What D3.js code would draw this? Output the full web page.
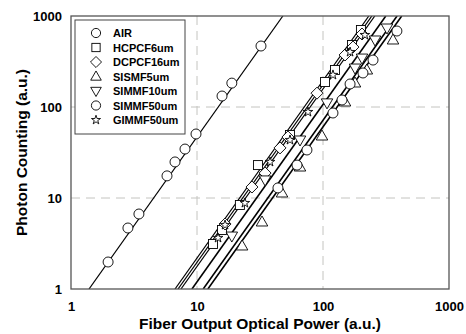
<!DOCTYPE html>
<html><head><meta charset="utf-8">
<script src="https://cdn.jsdelivr.net/npm/d3@7"></script>
<style>body{margin:0;background:#fff}svg{display:block}</style>
</head><body>
<script>
const seriesNames = ["AIR","HCPCF6um","DCPCF16um","SISMF5um","SIMMF10um","SIMMF50um","GIMMF50um"];
const seriesSymbols = ["circle","square","diamond","triUp","triDown","hexagon","star"];
const xTicks = [1,10,100,1000];
const yTicks = [1,10,100,1000];

const airX = [1.97,2.83,3.46,5.78,6.69,8.03,9.82,15.8,18.9,32.2];
const airY = [1.98,4.68,6.67,17.5,24.9,34.5,50.5,132,183,468];
const hcpcfX = [13.4,15.8,21.9,30.5,54.7,103.7,124.5,170,200];
const hcpcfY = [3.12,4.45,8.38,23.0,49.3,188,255,480,702];
const dcpcfX = [16.7,27.3,34.7,45.6,52.7,89.6,149.6,173,204];
const dcpcfY = [5.18,13.2,18.8,35.5,46.8,142,373,456,634];
const sismfX = [22.8,32.8,47.3,65.7,98.2,149.6,179.5,223,359.5];
const sismfY = [2.97,5.45,11.35,21.9,48.0,113.5,183.6,255,545];
const simmf10X = [18.9,34.7,65.7,107.6,179.5,204,259,322];
const simmf10Y = [3.82,15.8,43.4,111,268,345,545,738];
const simmf50X = [43.9,62.2,74.6,120,141.5,164,207.6,249.5,386];
const simmf50Y = [12.9,23.0,33.7,85.9,119.4,179,236.5,328,684];
const gimmfX = [14.7,16.7,24.0,38.0,54.7,76.0,120,164,215];
const gimmfY = [3.64,5.05,8.81,24.9,43.4,88.1,225,402,618];

// linear fits in log-log space: y = (x / fitX0)^fitSlope
const fitX0 = [1.39,6.69,7.07,12.2,9.12,11.2,7.46];
const fitSlope = [1.95,1.95,1.95,1.95,1.95,1.95,1.95];

const seriesX = [airX,hcpcfX,dcpcfX,sismfX,simmf10X,simmf50X,gimmfX];
const seriesY = [airY,hcpcfY,dcpcfY,sismfY,simmf10Y,simmf50Y,gimmfY];

const W = 466, H = 334;
const m = {l:71, t:16, r:17, b:45};
const FONT = "Liberation Sans, Arial, sans-serif";
const svg = d3.select("body").append("svg").attr("width",W).attr("height",H);
const x = d3.scaleLog().domain([1,1000]).range([m.l, W-m.r]);
const y = d3.scaleLog().domain([1,1000]).range([H-m.b, m.t]);

svg.append("defs").append("clipPath").attr("id","clip")
  .append("rect").attr("x",m.l).attr("y",m.t).attr("width",W-m.l-m.r).attr("height",H-m.t-m.b);

// grid
const g = svg.append("g");
g.selectAll(".gx").data([10,100]).join("line")
  .attr("x1",d=>x(d)).attr("x2",d=>x(d)).attr("y1",m.t).attr("y2",H-m.b)
  .attr("stroke","#c4c4c0").attr("stroke-width",1).attr("stroke-dasharray","9,6");
g.selectAll(".gy").data([10,100]).join("line")
  .attr("y1",d=>y(d)).attr("y2",d=>y(d)).attr("x1",m.l).attr("x2",W-m.r)
  .attr("stroke","#c4c4c0").attr("stroke-width",1).attr("stroke-dasharray","9,6");

// axes labels
const xa = d3.axisBottom(x).tickValues(xTicks).tickFormat(d3.format("d")).tickSize(0).tickPadding(13);
const ya = d3.axisLeft(y).tickValues(yTicks).tickFormat(d3.format("d")).tickSize(0).tickPadding(9);
const gx = svg.append("g").attr("transform",`translate(0,${H-m.b})`).call(xa);
const gy = svg.append("g").attr("transform",`translate(${m.l},0)`).call(ya);
[gx,gy].forEach(a=>{a.select(".domain").remove();
  a.selectAll("text").attr("font-family",FONT).attr("font-weight","bold").attr("font-size",13).attr("fill","#000");});

// fit lines
const lineGen = d3.line().x(d=>x(d[0])).y(d=>y(d[1]));
const plot = svg.append("g").attr("clip-path","url(#clip)");
seriesNames.forEach((n,i)=>{
  const x0 = fitX0[i], s = fitSlope[i];
  const xa0 = x0, xa1 = x0*Math.pow(1000,1/s);
  plot.append("path").datum([[xa0,1],[xa1,1000]]).attr("d",lineGen)
    .attr("fill","none").attr("stroke","#000").attr("stroke-width", i>=3 && i<=5 ? 1.6 : 1.2);
});

// symbols
function sym(sel, type, r){
  if(type==="circle"||type==="hexagon"){
    sel.append("circle").attr("r",r);
  } else if(type==="square"){
    sel.append("rect").attr("x",-r*0.9).attr("y",-r*0.9).attr("width",r*1.8).attr("height",r*1.8);
  } else if(type==="diamond"){
    sel.append("path").attr("d",`M0,${-r*1.2}L${r*1.2},0L0,${r*1.2}L${-r*1.2},0Z`);
  } else if(type==="triUp"){
    sel.append("path").attr("d",`M0,${-r*1.2}L${r*1.15},${r*0.8}L${-r*1.15},${r*0.8}Z`);
  } else if(type==="triDown"){
    sel.append("path").attr("d",`M0,${r*1.2}L${r*1.15},${-r*0.8}L${-r*1.15},${-r*0.8}Z`);
  } else if(type==="star"){
    sel.append("path").attr("d",d3.symbol(d3.symbolStar, r*r*1.6)());
  }
}
seriesNames.forEach((n,i)=>{
  const pts = seriesX[i].map((v,j)=>[v,seriesY[i][j]]);
  const gs = plot.append("g").attr("fill","#fff").attr("stroke","#000").attr("stroke-width",0.9);
  pts.forEach(p=>{
    const s = gs.append("g").attr("transform",`translate(${x(p[0])},${y(p[1])})`);
    sym(s, seriesSymbols[i], i===6?4.2:5);
  });
});

// frame
svg.append("rect").attr("x",m.l).attr("y",m.t).attr("width",W-m.l-m.r).attr("height",H-m.t-m.b)
  .attr("fill","none").attr("stroke","#555").attr("stroke-width",1.3);

// legend
const lg = svg.append("g");
lg.append("rect").attr("x",75).attr("y",20).attr("width",110).attr("height",114)
  .attr("fill","#fff").attr("stroke","#444").attr("stroke-width",1);
seriesNames.forEach((n,i)=>{
  const yy = 33 + i*14.5;
  const s = lg.append("g").attr("transform",`translate(96,${yy})`).attr("fill","#fff").attr("stroke","#000").attr("stroke-width",0.9);
  sym(s, seriesSymbols[i], i===6?4:4.6);
  lg.append("text").attr("x",113).attr("y",yy+4).text(n)
    .attr("font-family",FONT).attr("font-weight","bold").attr("font-size",11);
});

// titles
svg.append("text").attr("x",(m.l+W-m.r)/2).attr("y",329).attr("text-anchor","middle")
  .attr("font-family",FONT).attr("font-weight","bold").attr("font-size",15.5)
  .text("Fiber Output Optical Power (a.u.)");
svg.append("text").attr("transform",`translate(27,${(m.t+H-m.b)/2}) rotate(-90)`).attr("text-anchor","middle")
  .attr("font-family",FONT).attr("font-weight","bold").attr("font-size",15.5)
  .text("Photon Counting (a.u.)");
</script>
</body></html>
